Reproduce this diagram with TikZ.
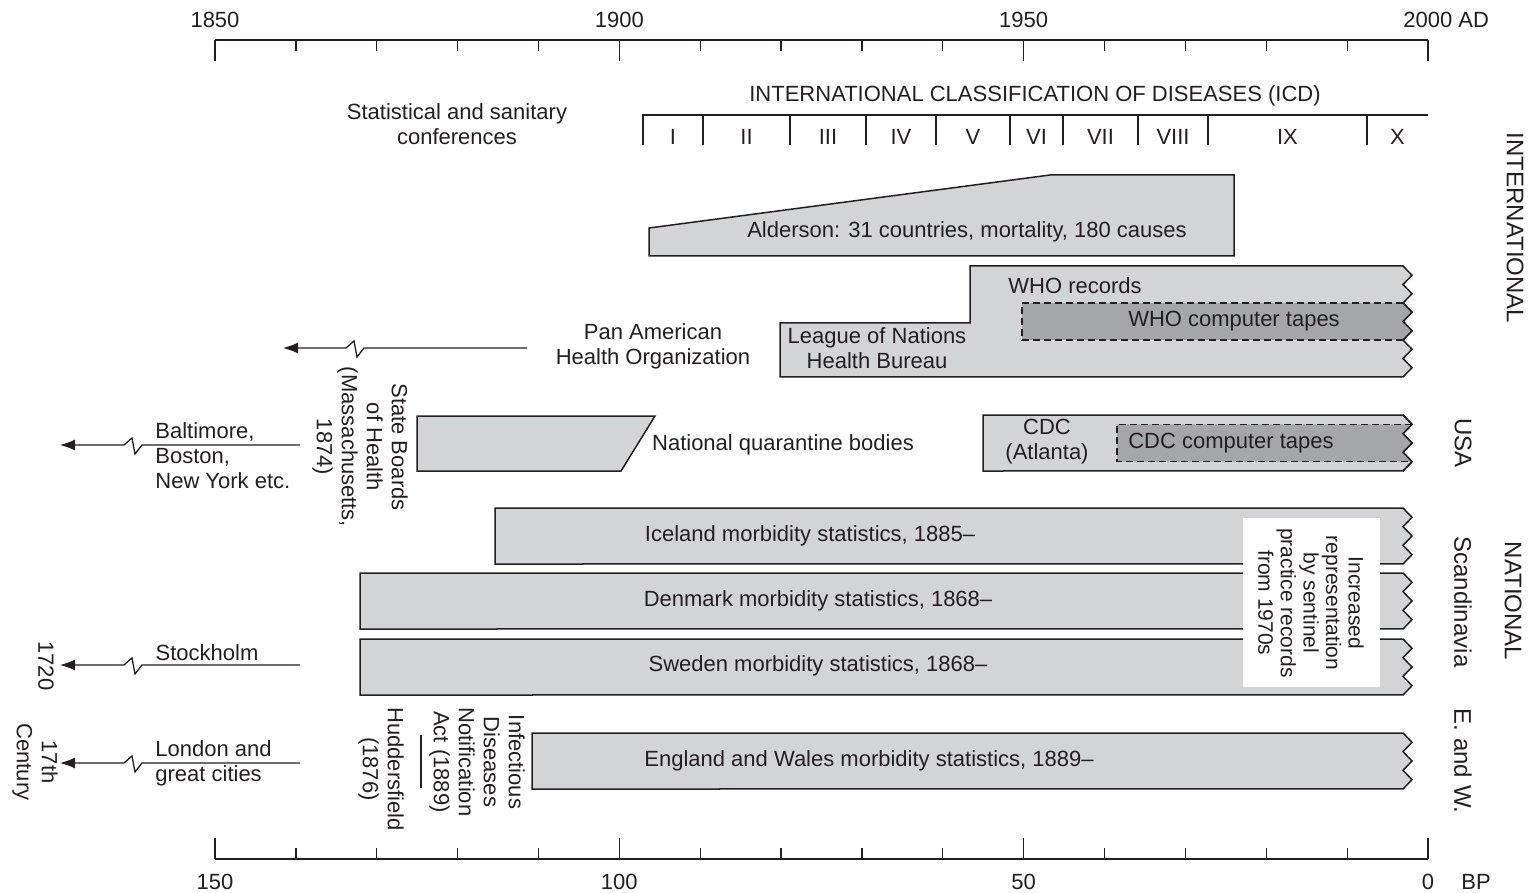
\documentclass[tikz,border=0pt]{standalone}
\usepackage{fontspec}
\setmainfont{Liberation Sans}
\usetikzlibrary{arrows.meta}
\definecolor{ink}{HTML}{231F20}
\definecolor{barlight}{HTML}{D3D4D6}
\definecolor{bardark}{HTML}{A5A6A8}
% jagged right edge of a band: #1 teeth, #2 half height of a tooth
\newcommand{\jag}[2]{\foreach \k in {1,...,#1}{ -- ++(9,#2) -- ++(-9,#2)}}
% break mark in a leader line (drawn right to left)
\newcommand{\brk}{-- ++(-7,9) -- ++(-3,-16) -- ++(-8,7)}

\begin{document}
\begin{tikzpicture}[x=0.5pt, y=-0.5pt,
bar/.style = {draw=ink, fill=barlight, line width=0.75pt},
edge/.style = {draw=ink, line width=0.75pt},
tape/.style = {fill=bardark},
tapeline/.style = {draw=ink, line width=0.7pt, dash pattern=on 3.5pt off 2pt},
txt/.style = {text=ink, inner sep=0pt, align=center, font=\fontsize{11}{12.5}\selectfont},
vtxt/.style = {txt, rotate=-90},
side/.style = {text=ink, inner sep=0pt, rotate=-90, font=\fontsize{12}{14}\selectfont},
axis/.style = {draw=ink, line width=0.65pt},
lead/.style = {draw=ink, line width=0.65pt, ->},
>={Latex[length=7.5pt,width=5.5pt]}
]
\useasboundingbox (0,0) rectangle (1532,893);

% time axis, years AD
\draw[axis] (215,40) -- (1428,40);
\foreach \i in {0,...,15}
  \draw[axis] ({215+\i*80.867},40) -- ++(0,11);
\foreach \i/\yr in {0/1850,5/1900,10/1950}{
  \draw[axis] ({215+\i*80.867},40) -- ++(0,21);
  \node[txt] (ad\yr) at ({215+\i*80.867},20) {\yr};
}
\draw[axis] (1428,40) -- ++(0,21);
\node[txt, anchor=west] (ad2000) at (1403,20) {2000 AD};

% time axis, years BP
\draw[axis] (215,859) -- (1428,859);
\foreach \i in {0,...,15}
  \draw[axis] ({215+\i*80.867},859) -- ++(0,-11);
\foreach \i/\bp in {0/150,5/100,10/50,15/0}{
  \draw[axis] ({215+\i*80.867},859) -- ++(0,-21);
  \node[txt] (bp\bp) at ({215+\i*80.867},882) {\bp};
}
\node[txt] (bpunit) at (1476,882) {BP};

% ICD revisions
\node[txt] (icd) at (1035,96) {INTERNATIONAL CLASSIFICATION OF DISEASES (ICD)};
\draw[axis] (643,145) -- (643,115) -- (1428,115);
\foreach \a/\b/\r in {643/703/I, 703/790/II, 790/866/III, 866/936/IV, 936/1010/V,
    1010/1063/VI, 1063/1138/VII, 1138/1208/VIII, 1208/1367/IX, 1367/1428/X}
  \node[txt] (icd\r) at ({(\a+\b)/2},137) {\r};
\foreach \x in {703,790,866,936,1010,1063,1138,1208,1367}
  \draw[axis] (\x,115) -- (\x,145);
\node[txt] (conf) at (457,124) {Statistical and sanitary\\conferences};

% international
\draw[bar] (649,228) -- (1050,175) -- (1234,175) -- (1234,256) -- (649,256) -- cycle;
\node[txt] (alderson) at (967,232) {Alderson: 31 countries, mortality, 180 causes};

\draw[bar] (780,377) -- (780,323) -- (970,323) -- (970,266) -- (1403,266) \jag{6}{9.25} -- cycle;
\fill[tape] (1022,303) -- (1403,303) \jag{2}{9.25} -- (1022,340) -- cycle;
\draw[tapeline] (1403,303) -- (1022,303) -- (1022,340) -- (1403,340);
\draw[edge] (1403,303) \jag{2}{9.25};
\node[txt] (who) at (1075,286) {WHO records};
\node[txt] (whotape) at (1234,321) {WHO computer tapes};
\node[txt] (league) at (877,348) {League of Nations\\Health Bureau};

\node[txt] (paho) at (653,346) {Pan American\\Health Organization};
\coordinate (paho-s) at (527,348);
\coordinate (paho-b) at (364,348);
\coordinate (paho-e) at (283,348);
\draw[lead] (paho-s) -- (paho-b) \brk -- (paho-e);

% USA
\node[vtxt] (boards) at (360,447) {State Boards\\of Health\\(Massachusetts,\\1874)};
\draw[bar] (417,416) -- (655,416) -- (621,471) -- (417,471) -- cycle;
\node[txt] (quar) at (783,445) {National quarantine bodies};

\draw[bar] (983,415) -- (1403,415) \jag{3}{9.33} -- (983,471) -- cycle;
\fill[tape] (1117,424.33) -- (1412,424.33) -- (1403,433.67) -- (1412,443)
  -- (1403,452.33) -- (1412,461.67) -- (1117,461.67) -- cycle;
\draw[tapeline] (1412,424.33) -- (1117,424.33) -- (1117,461.67) -- (1412,461.67);
\draw[edge] (1403,415) \jag{3}{9.33};
\node[txt] (cdc) at (1047,442) {CDC\\(Atlanta)};
\node[txt] (cdctape) at (1231,443) {CDC computer tapes};

\node[txt, anchor=west, align=left] (balt) at (155,456) {Baltimore,\\Boston,\\New York etc.};
\coordinate (balt-s) at (300,445);
\coordinate (balt-b) at (142,445);
\coordinate (balt-e) at (60,445);
\draw[lead] (balt-s) -- (balt-b) \brk -- (balt-e);

% Scandinavia
\draw[bar] (495,508) -- (1403,508) \jag{3}{9.33} -- (495,564) -- cycle;
\node[txt] (iceland) at (810,536) {Iceland morbidity statistics, 1885–};
\draw[bar] (360,573) -- (1403,573) \jag{3}{9.33} -- (360,629) -- cycle;
\node[txt] (denmark) at (818,601) {Denmark morbidity statistics, 1868–};
\draw[bar] (360,639) -- (1403,639) \jag{3}{9.33} -- (360,695) -- cycle;
\node[txt] (sweden) at (818,666) {Sweden morbidity statistics, 1868–};

\fill[white] (1243,518) rectangle (1380,687);
\node[vtxt, font=\fontsize{10.5}{11.3}\selectfont] (sentinel) at (1311,603)
  {Increased\\representation\\by sentinel\\practice records\\from 1970s};

\node[txt] (stock) at (207,653) {Stockholm};
\coordinate (stock-s) at (300,665);
\coordinate (stock-b) at (142,665);
\coordinate (stock-e) at (60,665);
\draw[lead] (stock-s) -- (stock-b) \brk -- (stock-e);
\node[vtxt] (y1720) at (46,666) {1720};

% England and Wales
\draw[bar] (532,733) -- (1403,733) \jag{3}{9.33} -- (532,789) -- cycle;
\node[txt] (england) at (869,761) {England and Wales morbidity statistics, 1889–};
\node[vtxt] (hudd) at (381,769) {Huddersfield\\(1876)};
\draw[ink, line width=1.4pt] (421,735) -- (421,788);
\node[vtxt] (idna) at (477,762) {Infectious\\Diseases\\Notification\\Act (1889)};

\node[txt, anchor=west, align=left] (london) at (155,763) {London and\\great cities};
\coordinate (lond-s) at (300,763);
\coordinate (lond-b) at (142,763);
\coordinate (lond-e) at (60,763);
\draw[lead] (lond-s) -- (lond-b) \brk -- (lond-e);
\node[vtxt] (c17) at (35,762) {17th\\Century};

% row labels
\node[side] (intl) at (1515,228) {INTERNATIONAL};
\node[side] (usa) at (1463,443) {USA};
\node[side] (natl) at (1513,601) {NATIONAL};
\node[side] (scand) at (1463,602) {Scandinavia};
\node[side] (ew) at (1463,761) {E. and W.};
\end{tikzpicture}
\end{document}
